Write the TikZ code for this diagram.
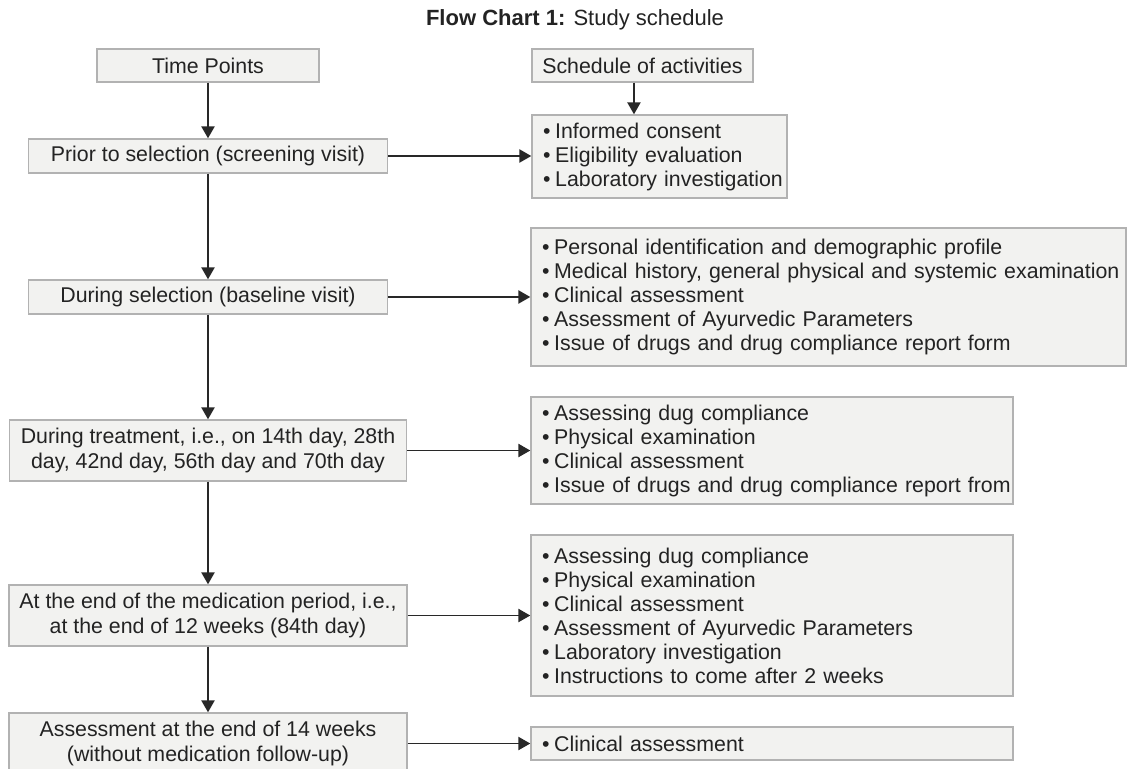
\documentclass[tikz,border=0pt]{standalone}
\usepackage{fontspec}
\setmainfont{Liberation Sans}
\usetikzlibrary{arrows.meta}
\definecolor{boxfill}{RGB}{242,242,240}
\definecolor{boxline}{RGB}{178,178,178}
\definecolor{ink}{RGB}{35,35,35}
\definecolor{arrowc}{RGB}{40,40,40}
\newcommand\itm[1]{\mbox{\textbullet\hspace{0.22em}#1}}
\begin{document}
\begin{tikzpicture}[x=0.75pt,y=-0.75pt,
  box/.style={draw=boxline, fill=boxfill, line width=1.1pt, text=ink,
    font=\fontsize{16}{18.5}\selectfont, inner sep=0pt, align=center},
  lbox/.style={box, align=left, inner xsep=8.25pt, inner ysep=0pt,
    font=\fontsize{16}{18}\selectfont},
  arr/.style={draw=arrowc, line width=1.1pt, -{Triangle[width=10pt,length=9pt]}}]
\clip (0,0) rectangle (1128,768);
\fill[white] (0,0) rectangle (1128,768);

% title
\node[text=ink, font=\fontsize{16.5}{19}\selectfont] (title) at (575,20)
  {\textbf{Flow Chart 1:} Study schedule};

% left column
\node[box, minimum width=166.5pt, minimum height=24.75pt] (tp) at (208,65.5) {Time Points};
\node[box, minimum width=269.25pt, minimum height=25.5pt] (prior) at (208,156) {Prior to selection (screening visit)};
\node[box, minimum width=269.25pt, minimum height=25.5pt] (sel) at (208,297) {During selection (baseline visit)};
\node[box, minimum width=297.75pt, minimum height=45.75pt] (treat) at (208,450.5)
  {During treatment, i.e., on 14th day, 28th\\day, 42nd day, 56th day and 70th day};
\node[box, minimum width=298.5pt, minimum height=45.75pt] (endmed) at (208,615.5)
  {At the end of the medication period, i.e.,\\at the end of 12 weeks (84th day)};
\node[box, minimum width=298.5pt, minimum height=45.75pt] (assess) at (208,743.5)
  {Assessment at the end of 14 weeks\\(without medication follow-up)};

% right column
\node[box, minimum width=165.75pt, minimum height=24.75pt] (sa) at (642.5,65.5) {Schedule of activities};
\node[lbox, text width=174.75pt, minimum height=62.25pt] (b1) at (659.5,156.5)
  {\itm{Informed consent}\\\itm{Eligibility evaluation}\\\itm{Laboratory investigation}};
\node[lbox, text width=429.75pt, minimum height=103.5pt] (b2) at (828.5,297)
  {\itm{Personal identification and demographic profile}\\
   \itm{Medical history, general physical and systemic examination}\\
   \itm{Clinical assessment}\\
   \itm{Assessment of Ayurvedic Parameters}\\
   \itm{Issue of drugs and drug compliance report form}};
\node[lbox, text width=345pt, minimum height=80.25pt] (b3) at (772,450.5)
  {\itm{Assessing dug compliance}\\
   \itm{Physical examination}\\
   \itm{Clinical assessment}\\
   \itm{Issue of drugs and drug compliance report from}};
\node[lbox, text width=345pt, minimum height=120.75pt] (b4) at (772,615.5)
  {\itm{Assessing dug compliance}\\
   \itm{Physical examination}\\
   \itm{Clinical assessment}\\
   \itm{Assessment of Ayurvedic Parameters}\\
   \itm{Laboratory investigation}\\
   \itm{Instructions to come after 2 weeks}};
\node[lbox, text width=345pt, minimum height=24.75pt] (b5) at (772,743.5)
  {\itm{Clinical assessment}};

% vertical connectors
\draw[arr] (tp.south) -- (tp.south |- prior.north);
\draw[arr] (prior.south) -- (prior.south |- sel.north);
\draw[arr] (sel.south) -- (sel.south |- treat.north);
\draw[arr] (treat.south) -- (treat.south |- endmed.north);
\draw[arr] (endmed.south) -- (endmed.south |- assess.north);
\draw[arr] ([xshift=-6.4pt]sa.south) -- ([xshift=-6.4pt]sa.south |- b1.north);

% horizontal connectors
\draw[arr] (prior.east) -- (prior.east -| b1.west);
\draw[arr] (sel.east) -- (sel.east -| b2.west);
\draw[arr] (treat.east) -- (treat.east -| b3.west);
\draw[arr] (endmed.east) -- (endmed.east -| b4.west);
\draw[arr] (assess.east) -- (assess.east -| b5.west);
\end{tikzpicture}
\end{document}
